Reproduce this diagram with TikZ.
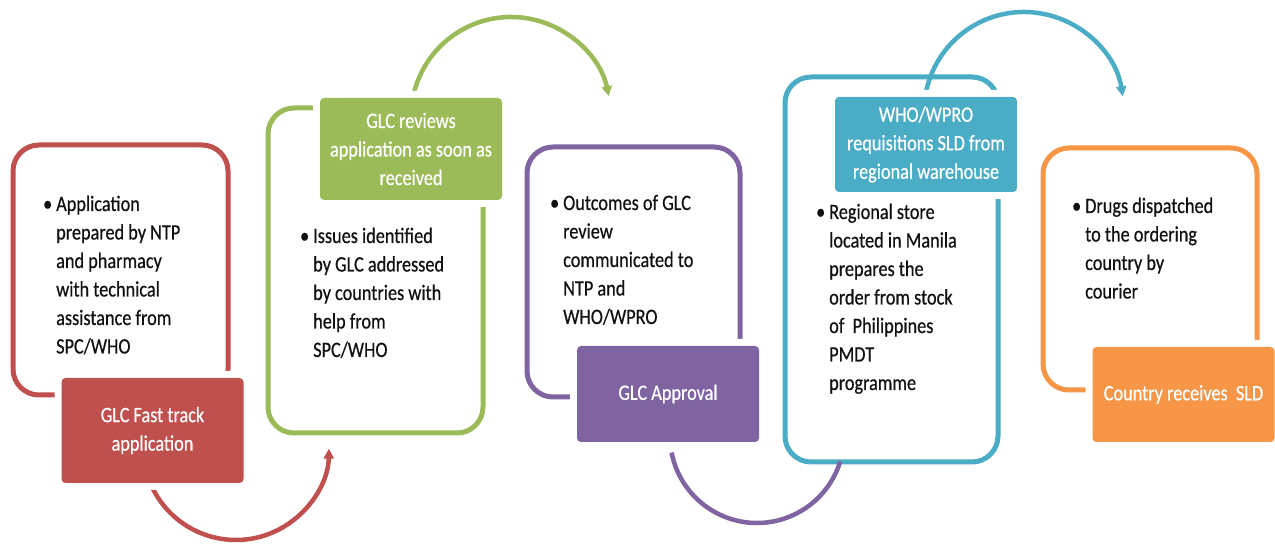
\documentclass[tikz,border=0pt]{standalone}
\usepackage{fontspec}
\setmainfont{Carlito}[FakeStretch=0.83,FakeBold=0.5]
\usetikzlibrary{arrows.meta,calc}

\definecolor{cred}{HTML}{C0504D}
\definecolor{cgreen}{HTML}{9BBB59}
\definecolor{cpurple}{HTML}{8064A2}
\definecolor{cblue}{HTML}{4BACC6}
\definecolor{corange}{HTML}{F79646}
\definecolor{ink}{HTML}{111111}

\newcommand\pbodyfont{\fontsize{22}{28.5}\selectfont}
\newcommand\ptagfont{\fontsize{22}{28.5}\selectfont}
% bullet hanging to the left of the first line
\newcommand\pbul{\llap{\textbullet\hspace{4pt}}}

\begin{document}
\begin{tikzpicture}[x=1pt,y=1pt,
  panel/.style={draw=#1, line width=5pt, rounded corners=26pt, inner sep=0pt},
  tag/.style={fill=#1, rounded corners=4pt, inner sep=0pt, minimum width=182pt,
              text=white, align=center, font=\ptagfont,
              preaction={draw=white, line width=14pt}},
  note/.style={anchor=base west, inner sep=0pt, text=ink, font=\pbodyfont},
  flow/.style={draw=#1, line width=4.5pt, -{Triangle[length=10pt,width=10pt]}},
  flowplain/.style={draw=#1, line width=4.5pt}]

\fill[white] (0,0) rectangle (1275,546);
\useasboundingbox (0,0) rectangle (1275,546);

% outer panels
\node[panel=cred,    minimum width=215pt, minimum height=250pt] (box1) at (120.5,276) {};
\node[panel=cgreen,  minimum width=215pt, minimum height=325pt] (box2) at (375.5,275.5) {};
\node[panel=cpurple, minimum width=213pt, minimum height=250pt] (box3) at (633.5,274) {};
\node[panel=cblue,   minimum width=213pt, minimum height=385pt] (box4) at (891.5,276.5) {};
\node[panel=corange, minimum width=214pt, minimum height=242pt] (box5) at (1150,277) {};

% anchors for the curved connectors
\coordinate (lab1s) at (152.5,63);
\coordinate (lab2n) at (411,448);
\coordinate (lab3s) at (668,104);
\coordinate (lab4n) at (926,449);

% curved connectors between the steps
\draw[flow=cred]       ($(lab1s)+(0.6,-6.2)$) arc[start angle=207, end angle=359, radius=93];
\draw[flow=cgreen]     ($(lab2n)+(3,5.2)$)    arc[start angle=166, end angle=12,  radius=100];
\draw[flowplain=cpurple] ($(lab3s)+(3.6,-10.6)$) arc[start angle=191, end angle=343, radius=87];
\draw[flow=cblue]      ($(lab4n)+(0.2,5.8)$)  arc[start angle=168, end angle=9,   radius=100];

% step labels
\node[tag=cred,    minimum height=105pt] (lab1) at (152.5,115.5) {GLC Fast track\\application};
\node[tag=cgreen,  minimum height=102pt] (lab2) at (411,397) {GLC reviews\\application as soon as\\received};
\node[tag=cpurple, minimum height=96pt]  (lab3) at (668,152) {GLC Approval};
\node[tag=cblue,   minimum height=95pt]  (lab4) at (926,401.5) {WHO/WPRO\\requisitions SLD from\\regional warehouse};
\node[tag=corange, minimum height=95pt]  (lab5) at (1183.5,151.5) {Country receives~~SLD};

% bullet texts
\node[note] (txt1) at (56,335) {\begin{tabular}[t]{@{}l@{}}
  \pbul Application\\ prepared by NTP\\ and pharmacy\\ with technical\\ assistance from\\ SPC/WHO
\end{tabular}};
\node[note] (txt2) at (313,303) {\begin{tabular}[t]{@{}l@{}}
  \pbul Issues identified\\ by GLC addressed\\ by countries with\\ help from\\ SPC/WHO
\end{tabular}};
\node[note] (txt3) at (563,336) {\begin{tabular}[t]{@{}l@{}}
  \pbul Outcomes of GLC\\ review\\ communicated to\\ NTP and\\ WHO/WPRO
\end{tabular}};
\node[note] (txt4) at (829,327) {\begin{tabular}[t]{@{}l@{}}
  \pbul Regional store\\ located in Manila\\ prepares the\\ order from stock\\ of~~Philippines\\ PMDT\\ programme
\end{tabular}};
\node[note] (txt5) at (1085,333) {\begin{tabular}[t]{@{}l@{}}
  \pbul Drugs dispatched\\ to the ordering\\ country by\\ courier
\end{tabular}};
\end{tikzpicture}
\end{document}
